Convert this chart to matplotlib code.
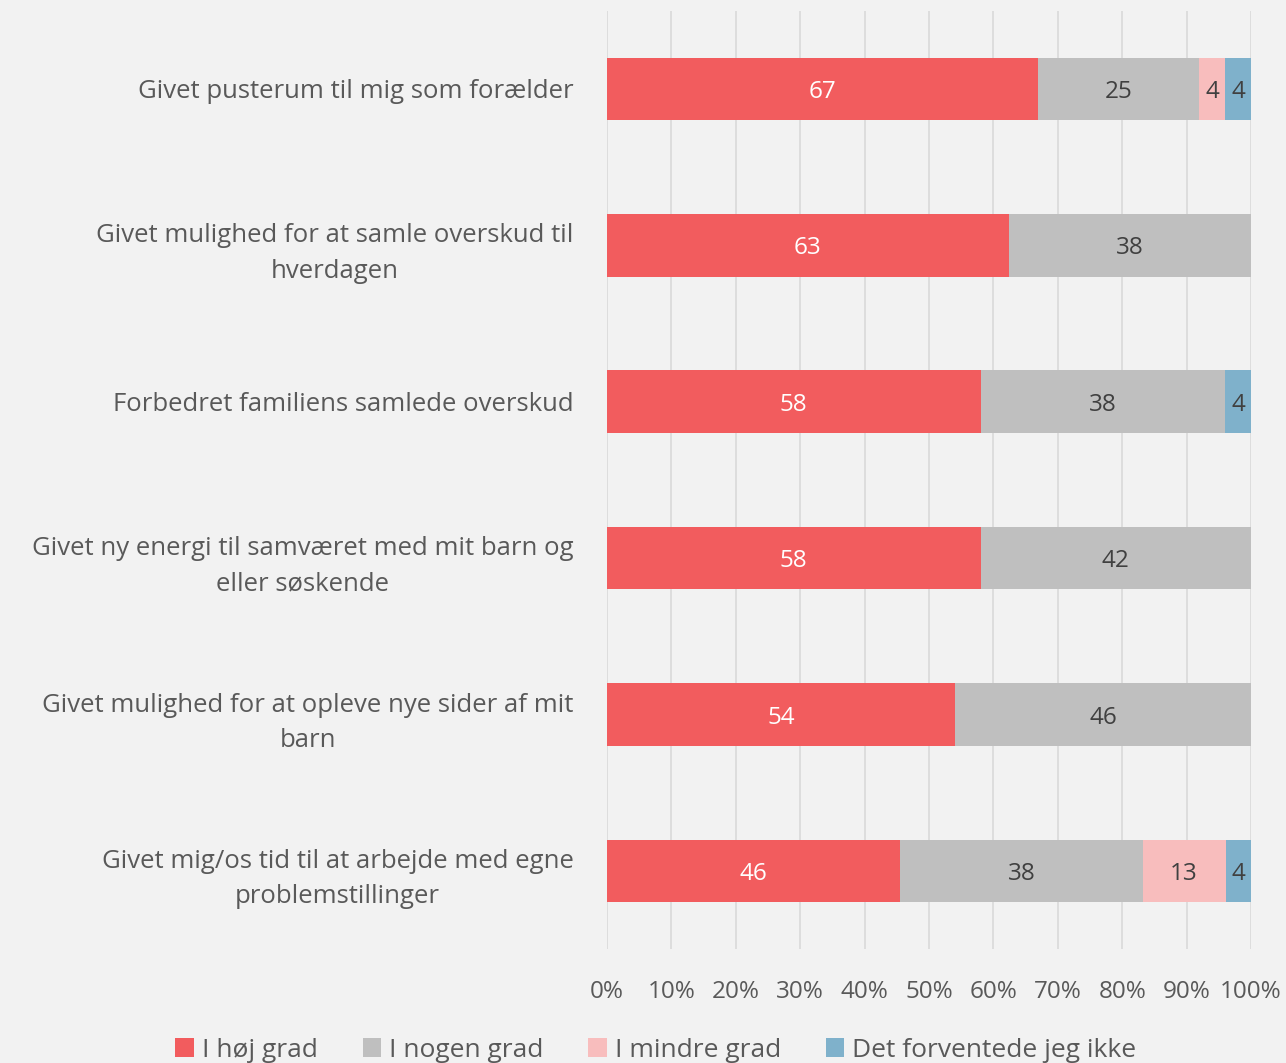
import matplotlib.pyplot as plt
import numpy as np

# data
kategorier = [
    "Givet pusterum til mig som forælder",
    "Givet mulighed for at samle overskud til\nhverdagen",
    "Forbedret familiens samlede overskud",
    "Givet ny energi til samværet med mit barn og\neller søskende",
    "Givet mulighed for at opleve nye sider af mit\nbarn",
    "Givet mig/os tid til at arbejde med egne\nproblemstillinger",
]
serier = ["I høj grad", "I nogen grad", "I mindre grad", "Det forventede jeg ikke"]
hoej = [67, 63, 58, 58, 54, 46]
nogen = [25, 38, 38, 42, 46, 38]
mindre = [4, 0, 0, 0, 0, 13]
forventede = [4, 0, 4, 0, 0, 4]

farver = ["#F25C5E", "#BFBFBF", "#F8BDBD", "#7FB1CB"]
tekstfarver = ["white", "#404040", "#404040", "#404040"]

plt.rcParams['font.family'] = ['Open Sans', 'DejaVu Sans']

fig = plt.figure(figsize=(12.86, 10.63), dpi=100)
fig.patch.set_facecolor("#F2F2F2")
ax = fig.add_axes([0.472, 0.107, 0.5008, 0.883])
ax.set_facecolor("#F2F2F2")

data = np.array([hoej, nogen, mindre, forventede], dtype=float)
total = data.sum(axis=0)
pct = data / total * 100

y = np.arange(len(kategorier))
left = np.zeros(len(kategorier))
for i, navn in enumerate(serier):
    bars = ax.barh(y, pct[i], left=left, height=0.4, color=farver[i], label=navn, zorder=3)
    for j, b in enumerate(bars):
        if data[i, j] > 0:
            ax.text(left[j] + pct[i, j] / 2, y[j], f"{int(data[i, j])}", ha="center",
                    va="center_baseline", fontsize=17.5, color=tekstfarver[i], zorder=4)
    left += pct[i]

ax.set_xlim(0, 100)
ax.set_ylim(len(kategorier) - 0.5, -0.5)
ax.set_xticks(np.arange(0, 101, 10))
ax.set_xticklabels([f"{v}%" for v in range(0, 101, 10)], fontsize=17.5, color="#595959")
ax.set_yticks(y)
ax.set_yticklabels(kategorier, fontsize=18.5, color="#595959", multialignment="center",
                   linespacing=1.55)
ax.tick_params(axis="both", length=0)
ax.tick_params(axis="y", pad=24)
ax.tick_params(axis="x", pad=22)
ax.grid(axis="x", color="#D9D9D9", linewidth=1.2, zorder=0)
for s in ax.spines.values():
    s.set_visible(False)

leg = fig.legend(loc="lower center", bbox_to_anchor=(0.51, -0.022), ncol=4, frameon=False,
                 fontsize=19, handlelength=0.7, handleheight=0.7, handletextpad=0.3,
                 columnspacing=1.7)
for t in leg.get_texts():
    t.set_color("#595959")

fig.savefig("out.png", dpi=100, facecolor=fig.get_facecolor())
